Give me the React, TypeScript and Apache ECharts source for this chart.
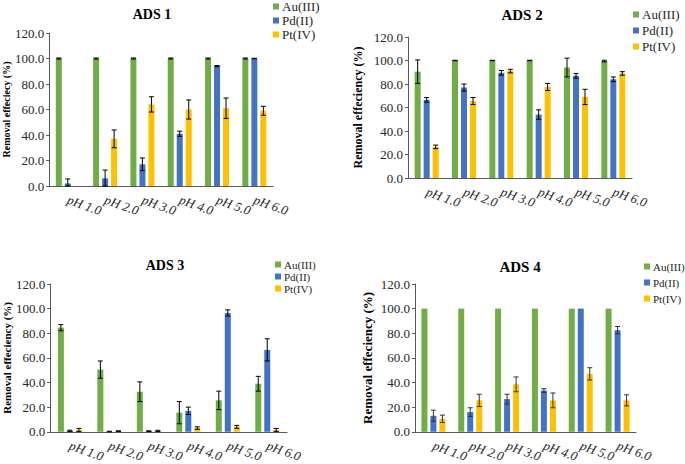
import React, { useEffect, useRef } from "react";
import * as echarts from "echarts";

const categories = ["pH 1.0", "pH 2.0", "pH 3.0", "pH 4.0", "pH 5.0", "pH 6.0"];
const seriesNames = ["Au(III)", "Pd(II)", "Pt(IV)"];
const yTicks = { min: 0, max: 120, interval: 20 };

// ADS 1
const ads1Au = [100, 100, 100, 100, 100, 100];
const ads1AuErr = [0.4, 0.4, 0.4, 0.4, 0.4, 0.4];
const ads1Pd = [2, 6, 17, 41, 94, 100];
const ads1PdErr = [3.5, 6.5, 5, 2, 0.5, 0.2];
const ads1Pt = [0, 37, 64, 60, 61, 59];
const ads1PtErr = [0, 7, 6, 7.5, 8, 3.5];

// ADS 2
const ads2Au = [90.5, 100, 100, 100, 94, 99.5];
const ads2AuErr = [10, 0.2, 0.2, 0.2, 8, 0.7];
const ads2Pd = [66.5, 77, 89.5, 54, 87, 84];
const ads2PdErr = [2, 3, 2, 4, 2, 2];
const ads2Pt = [26.5, 65.5, 91, 77.5, 69, 89];
const ads2PtErr = [1.5, 3, 1.5, 3, 6.5, 1.5];

// ADS 3
const ads3Au = [84.5, 50.5, 32.5, 15.5, 25.5, 39];
const ads3AuErr = [2.5, 7, 8, 9, 7.5, 6];
const ads3Pd = [0.8, 0, 0.5, 17, 96.5, 66.5];
const ads3PdErr = [0.5, 0.4, 0.3, 3, 2.5, 9];
const ads3Pt = [1.5, 0.5, 0.7, 3, 4, 1.5];
const ads3PtErr = [1.2, 0.3, 0.5, 1, 1.2, 1.2];

// ADS 4
const ads4Au = [100, 100, 100, 100, 100, 100];
const ads4AuErr = [0, 0, 0, 0, 0, 0];
const ads4Pd = [13, 16, 26.5, 33.5, 100, 82.5];
const ads4PdErr = [4.5, 3.5, 4, 1.5, 0, 3];
const ads4Pt = [10.5, 25.5, 38.5, 25.5, 47, 25.5];
const ads4PtErr = [3, 5, 6, 6, 5, 4.5];

const colors = ["#70AD47", "#4472C4", "#FFC000"];
const FONT = "Liberation Serif";

const panels = [
  {
    title: "ADS 1",
    yName: "Removal effeciecy (%)",
    values: [ads1Au, ads1Pd, ads1Pt],
    errors: [ads1AuErr, ads1PdErr, ads1PtErr],
    grid: { left: 49, top: 33, width: 224, height: 153 },
    titlePos: [152, 14], titleSize: 14,
    nameGap: 32, nameSize: 10,
    legend: { left: 273, top: 0, font: 13, gap: 1 },
    errColor: "#000",
  },
  {
    title: "ADS 2",
    yName: "Removal effeciency (%)",
    values: [ads2Au, ads2Pd, ads2Pt],
    errors: [ads2AuErr, ads2PdErr, ads2PtErr],
    grid: { left: 408, top: 37, width: 224, height: 141 },
    titlePos: [522, 15], titleSize: 15,
    nameGap: 44, nameSize: 12,
    legend: { left: 633, top: 8, font: 13, gap: 3 },
    errColor: "#000",
  },
  {
    title: "ADS 3",
    yName: "Removal effeciency (%)",
    values: [ads3Au, ads3Pd, ads3Pt],
    errors: [ads3AuErr, ads3PdErr, ads3PtErr],
    grid: { left: 49, top: 284, width: 238, height: 151 },
    titlePos: [165, 265], titleSize: 14,
    nameGap: 34, nameSize: 11,
    legend: { left: 275, top: 259, font: 11, gap: 1 },
    errColor: "#000",
  },
  {
    title: "ADS 4",
    yName: "Removal effeciency (%)",
    values: [ads4Au, ads4Pd, ads4Pt],
    errors: [ads4AuErr, ads4PdErr, ads4PtErr],
    grid: { left: 415, top: 284, width: 221, height: 151 },
    titlePos: [520, 267], titleSize: 15,
    nameGap: 41, nameSize: 13,
    legend: { left: 644, top: 261, font: 11, gap: 5 },
    errColor: "#333",
  },
];

const BAR_W = 6;
const BAR_GAP = 0.5;

export default function App() {
  const ref = useRef<HTMLDivElement>(null);
  useEffect(() => {
    if (!ref.current) return;
    const chart = echarts.init(ref.current, null, { renderer: "svg" });
    const grids: any[] = [];
    const xAxes: any[] = [];
    const yAxes: any[] = [];
    const legends: any[] = [];
    const series: any[] = [];
    const graphics: any[] = [];
    const step = BAR_W * (1 + BAR_GAP);

    panels.forEach((p, gi) => {
      grids.push({ ...p.grid, containLabel: false });
      xAxes.push({
        type: "category",
        gridIndex: gi,
        data: categories,
        axisLine: { lineStyle: { color: "#595959", width: 1 } },
        axisTick: { show: false },
        axisLabel: {
          rotate: -20,
          margin: 13,
          fontFamily: FONT,
          fontStyle: "italic",
          fontSize: 13,
          color: "#262626",
          interval: 0,
        },
      });
      yAxes.push({
        type: "value",
        gridIndex: gi,
        min: yTicks.min,
        max: yTicks.max,
        interval: yTicks.interval,
        name: p.yName,
        nameLocation: "middle",
        nameGap: p.nameGap,
        nameRotate: 90,
        nameTextStyle: { fontFamily: FONT, fontWeight: "bold", fontSize: p.nameSize, color: "#000" },
        axisLine: { show: true, lineStyle: { color: "#595959", width: 1 } },
        axisTick: { show: true, length: 3, lineStyle: { color: "#595959" } },
        splitLine: { show: false },
        axisLabel: {
          margin: 5,
          fontFamily: FONT,
          fontSize: 13,
          color: "#262626",
          formatter: (v: number) => v.toFixed(1),
        },
      });
      legends.push({
        data: seriesNames,
        orient: "vertical",
        left: p.legend.left,
        top: p.legend.top,
        itemWidth: 6,
        itemHeight: 6,
        itemGap: p.legend.gap,
        icon: "rect",
        padding: 0,
        textStyle: { fontFamily: FONT, fontSize: p.legend.font, color: "#262626", padding: [0, 0, 0, -2] },
        selectedMode: false,
      });
      graphics.push({
        type: "text",
        x: p.titlePos[0],
        y: p.titlePos[1],
        style: {
          text: p.title,
          textAlign: "center",
          textVerticalAlign: "middle",
          fontFamily: FONT,
          fontWeight: "bold",
          fontSize: p.titleSize,
          fill: "#000",
        },
      });
      p.values.forEach((vals, si) => {
        series.push({
          type: "bar",
          name: seriesNames[si],
          xAxisIndex: gi,
          yAxisIndex: gi,
          data: vals,
          barWidth: BAR_W,
          barGap: BAR_GAP * 100 + "%",
          itemStyle: { color: colors[si] },
        });
      });
      p.values.forEach((vals, si) => {
        const offset = (si - 1) * step;
        const errs = p.errors[si];
        series.push({
          type: "custom",
          name: "err" + gi + si,
          xAxisIndex: gi,
          yAxisIndex: gi,
          z: 10,
          encode: { x: 0, y: 1 },
          data: vals.map((v, i) => [i, v, errs[i]]),
          renderItem: (params: any, api: any) => {
            const x = api.value(0);
            const v = api.value(1);
            const e = api.value(2);
            if (!(e > 0)) return { type: "group", children: [] };
            const top = api.coord([x, v + e]);
            const bot = api.coord([x, Math.max(v - e, 0)]);
            const cx = top[0] + offset;
            const st = { stroke: p.errColor, lineWidth: 1 };
            return {
              type: "group",
              children: [
                { type: "line", shape: { x1: cx, y1: top[1], x2: cx, y2: bot[1] }, style: st },
                { type: "line", shape: { x1: cx - 2.5, y1: top[1], x2: cx + 2.5, y2: top[1] }, style: st },
                { type: "line", shape: { x1: cx - 2.5, y1: bot[1], x2: cx + 2.5, y2: bot[1] }, style: st },
              ],
            };
          },
        });
      });
    });

    chart.setOption({
      animation: false,
      backgroundColor: "#fff",
      grid: grids,
      xAxis: xAxes,
      yAxis: yAxes,
      legend: legends,
      series,
      graphic: graphics,
    });
    return () => chart.dispose();
  }, []);
  return (
    <div
      ref={ref}
      style={{ position: "fixed", left: 0, top: 0, width: 685, height: 464, background: "#fff" }}
    />
  );
}
